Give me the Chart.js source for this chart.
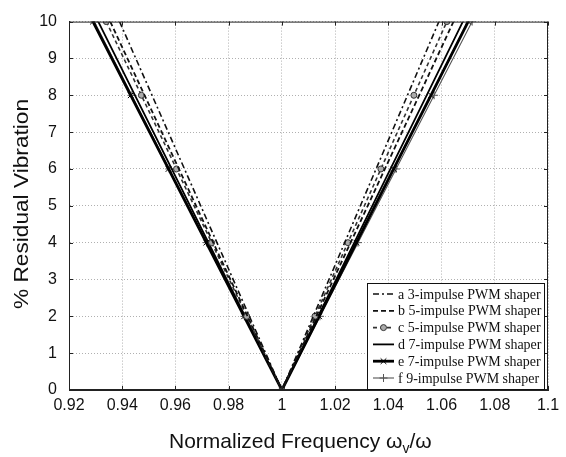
<!DOCTYPE html>
<html>
<head>
<meta charset="utf-8">
<script src="https://cdn.jsdelivr.net/npm/chart.js@4/dist/chart.umd.min.js"></script>
<style>
  html, body { margin: 0; padding: 0; background: #fff; }
  #wrap { width: 566px; height: 457px; position: relative; }
</style>
</head>
<body>
<div id="wrap"><canvas id="chart"></canvas></div>
<script>
// residual vibration levels (%) shared by all curves, left branch -> right branch
const residual = [10, 8, 6, 4, 2, 0, 2, 4, 6, 8, 10];

// normalized frequency at the residual levels above
const freqA = [0.939, 0.9512, 0.9634, 0.9756, 0.9878, 1, 1.0118, 1.0236, 1.0354, 1.0472, 1.059];
const freqB = [0.9355, 0.9484, 0.9613, 0.9742, 0.9871, 1, 1.0129, 1.0258, 1.0387, 1.0516, 1.0645];
const freqC = [0.934, 0.9472, 0.9604, 0.9736, 0.9868, 1, 1.0124, 1.0248, 1.0372, 1.0496, 1.062];
const freqD = [0.931, 0.9448, 0.9586, 0.9724, 0.9862, 1, 1.0136, 1.0272, 1.0408, 1.0544, 1.068];
const freqE = [0.929, 0.9432, 0.9574, 0.9716, 0.9858, 1, 1.014, 1.028, 1.042, 1.056, 1.070];
const freqF = [0.9295, 0.9436, 0.9577, 0.9718, 0.9859, 1, 1.0143, 1.0286, 1.0429, 1.0572, 1.0715];

const labels = [
    'a 3-impulse PWM shaper',
    'b 5-impulse PWM shaper',
    'c 5-impulse PWM shaper',
    'd 7-impulse PWM shaper',
    'e 7-impulse PWM shaper',
    'f 9-impulse PWM shaper'
];

const xTicks = [0.92, 0.94, 0.96, 0.98, 1, 1.02, 1.04, 1.06, 1.08, 1.1];

// line styles per curve
const styles = [
    { color: '#111', width: 1.6, dash: [6, 3, 2, 3], point: false, radius: 0 },
    { color: '#111', width: 1.8, dash: [5, 3], point: false, radius: 0 },
    { color: '#333', width: 1.6, dash: [4, 3], point: 'circle', radius: 3, fill: '#aaa' },
    { color: '#000', width: 1.8, dash: [], point: false, radius: 0 },
    { color: '#000', width: 2.8, dash: [], point: 'crossRot', radius: 4 },
    { color: '#555', width: 1.1, dash: [], point: 'cross', radius: 4 }
];

const toPoints = xs => xs.map((x, i) => ({ x: x, y: residual[i] }));
const series = [freqA, freqB, freqC, freqD, freqE, freqF];

const datasets = series.map((xs, i) => {
    const s = styles[i];
    return {
        label: labels[i],
        data: toPoints(xs),
        borderColor: s.color,
        borderWidth: s.width,
        borderDash: s.dash,
        pointStyle: s.point,
        pointRadius: s.radius,
        pointBorderColor: s.color,
        pointBackgroundColor: s.fill || s.color,
        pointBorderWidth: 1,
        tension: 0,
        fill: false
    };
});

// axis titles, inner tick marks and the boxed legend drawn by hand
const decorPlugin = {
    id: 'decor',
    afterDraw(chart) {
        const ctx = chart.ctx;
        const area = chart.chartArea;
        const xs = chart.scales.x;
        const ys = chart.scales.y;

        ctx.save();
        // frame
        ctx.strokeStyle = '#222';
        ctx.lineWidth = 1;
        ctx.setLineDash([]);
        ctx.strokeRect(area.left + 0.5, area.top + 0.5, area.right - area.left - 1, area.bottom - area.top - 1);

        // inward tick marks
        ctx.beginPath();
        xTicks.forEach(v => {
            const px = Math.round(xs.getPixelForValue(v)) + 0.5;
            ctx.moveTo(px, area.bottom); ctx.lineTo(px, area.bottom - 4);
            ctx.moveTo(px, area.top); ctx.lineTo(px, area.top + 4);
        });
        for (let v = 0; v <= 10; v++) {
            const py = Math.round(ys.getPixelForValue(v)) + 0.5;
            ctx.moveTo(area.left, py); ctx.lineTo(area.left + 4, py);
            ctx.moveTo(area.right, py); ctx.lineTo(area.right - 4, py);
        }
        ctx.stroke();

        // y title
        ctx.fillStyle = '#111';
        ctx.font = '21px "Liberation Sans", Arial, sans-serif';
        ctx.textAlign = 'center';
        ctx.textBaseline = 'middle';
        ctx.save();
        ctx.translate(22, 204);
        ctx.rotate(-Math.PI / 2);
        ctx.scale(1.08, 1);
        ctx.fillText('% Residual Vibration', 0, 0);
        ctx.restore();

        // x title with subscript
        const main = 'Normalized Frequency \u03c9';
        const sub = 'v';
        const tail = '/\u03c9';
        let tx = 169;
        const ty = 442;
        ctx.textAlign = 'left';
        ctx.font = '21px "Liberation Sans", Arial, sans-serif';
        ctx.fillText(main, tx, ty);
        tx += ctx.measureText(main).width;
        ctx.font = '14px "Liberation Sans", Arial, sans-serif';
        ctx.fillText(sub, tx, ty + 7);
        tx += ctx.measureText(sub).width;
        ctx.font = '21px "Liberation Sans", Arial, sans-serif';
        ctx.fillText(tail, tx, ty);

        // legend box
        const lx = 367, ly = 283, lw = 177, lh = 106;
        ctx.fillStyle = '#fff';
        ctx.fillRect(lx, ly, lw, lh);
        ctx.strokeStyle = '#111';
        ctx.lineWidth = 1;
        ctx.strokeRect(lx + 0.5, ly + 0.5, lw, lh);
        ctx.font = '14px "Liberation Serif", "Times New Roman", serif';
        ctx.textBaseline = 'middle';
        chart.data.datasets.forEach((ds, i) => {
            const cy = ly + 11 + i * 16.8;
            ctx.save();
            ctx.strokeStyle = ds.borderColor;
            ctx.lineWidth = ds.borderWidth;
            ctx.setLineDash(ds.borderDash);
            ctx.beginPath();
            ctx.moveTo(373, cy);
            ctx.lineTo(394, cy);
            ctx.stroke();
            ctx.restore();
            if (ds.pointStyle) {
                ctx.fillStyle = ds.pointBackgroundColor;
                ctx.strokeStyle = ds.pointBorderColor;
                ctx.lineWidth = 1;
                Chart.helpers.drawPoint(ctx, {
                    pointStyle: ds.pointStyle,
                    radius: ds.pointRadius,
                    borderWidth: 1
                }, 383.5, cy);
            }
            ctx.fillStyle = '#111';
            ctx.textAlign = 'left';
            ctx.fillText(ds.label, 398, cy + 1);
        });
        ctx.restore();
    }
};

new Chart(document.getElementById('chart').getContext('2d'), {
    type: 'line',
    data: { datasets: datasets },
    options: {
        responsive: true,
        maintainAspectRatio: false,
        animation: false,
        layout: { padding: { top: 15, right: 18, left: 0, bottom: 0 } },
        plugins: {
            legend: { display: false },
            tooltip: { enabled: false }
        },
        scales: {
            x: {
                type: 'linear',
                min: 0.92,
                max: 1.1,
                afterBuildTicks: scale => { scale.ticks = xTicks.map(v => ({ value: v })); },
                afterFit: scale => { scale.height = 67; },
                ticks: {
                    color: '#111',
                    padding: 6,
                    font: { family: '"Liberation Sans", Arial, sans-serif', size: 16 },
                    callback: v => String(Number(v.toFixed(2)))
                },
                grid: {
                    color: '#b0b0b0',
                    lineWidth: 1,
                    drawTicks: false
                },
                border: { display: true, color: '#222', dash: [1, 2] }
            },
            y: {
                min: 0,
                max: 10,
                afterFit: scale => { scale.width = 69; },
                ticks: {
                    stepSize: 1,
                    color: '#111',
                    padding: 12,
                    font: { family: '"Liberation Sans", Arial, sans-serif', size: 16 }
                },
                grid: {
                    color: '#b0b0b0',
                    lineWidth: 1,
                    drawTicks: false
                },
                border: { display: true, color: '#222', dash: [1, 2] }
            }
        }
    },
    plugins: [decorPlugin]
});
</script>
</body>
</html>
